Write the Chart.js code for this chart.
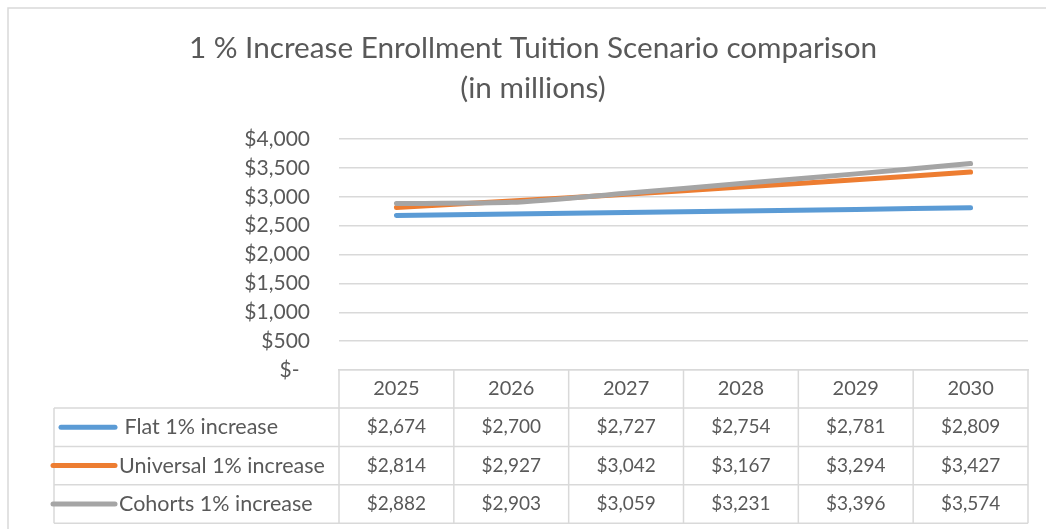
<!DOCTYPE html>
<html>
<head>
<meta charset="utf-8">
<script src="https://cdn.jsdelivr.net/npm/chart.js@4.4.0/dist/chart.umd.min.js"></script>
<style>
  html, body { margin: 0; padding: 0; background: #ffffff; }
  #wrap { position: relative; width: 1046px; height: 529px; }
  canvas { display: block; }
</style>
</head>
<body>
<div id="wrap"><canvas id="c" width="1046" height="529"></canvas></div>
<script>
// ---- Data ----
const titleLines = ['1 % Increase Enrollment Tuition Scenario comparison', '(in millions)'];
const years = ['2025', '2026', '2027', '2028', '2029', '2030'];
const seriesNames = [' Flat 1% increase', 'Universal 1% increase', 'Cohorts 1% increase'];
const flat = [2674, 2700, 2727, 2754, 2781, 2809];
const universal = [2814, 2927, 3042, 3167, 3294, 3427];
const cohorts = [2882, 2903, 3059, 3231, 3396, 3574];
const seriesColors = ['#5B9BD5', '#ED7D31', '#A5A5A5'];
const yMin = 0, yMax = 4000, yStep = 500;

// ---- Styles ----
const FONT = 'Lato, "Open Sans", sans-serif';
const TEXT = '#595959';
const GRID = '#d9d9d9';
const PAD_LEFT = 38;

function money(v) {
  if (v === 0) return '$-\u2002';
  return '$' + v.toLocaleString('en-US');
}

const seriesData = [flat, universal, cohorts];

const borderPlugin = {
  id: 'outerBorder',
  beforeDraw(chart) {
    const ctx = chart.ctx;
    ctx.save();
    ctx.fillStyle = '#ffffff';
    ctx.fillRect(0, 0, chart.width, chart.height);
    ctx.strokeStyle = GRID;
    ctx.lineWidth = 1.5;
    ctx.beginPath();
    ctx.moveTo(8, chart.height + 5);
    ctx.lineTo(8, 8);
    ctx.lineTo(chart.width + 5, 8);
    ctx.stroke();
    ctx.restore();
  }
};

const tablePlugin = {
  id: 'dataTable',
  afterDraw(chart) {
    const { ctx, chartArea } = chart;
    const x = chart.scales.x;
    const cols = years.length;
    const colW = (chartArea.right - chartArea.left) / cols;
    const top = x.bottom;
    const rowH = 38.4;
    const legendLeft = 54;
    const bottom = top + seriesData.length * rowH;
    ctx.save();
    ctx.strokeStyle = GRID;
    ctx.lineWidth = 1.5;
    const line = (x1, y1, x2, y2) => { ctx.beginPath(); ctx.moveTo(x1, y1); ctx.lineTo(x2, y2); ctx.stroke(); };
    for (let r = 0; r <= seriesData.length; r++) {
      const y = top + r * rowH;
      line(legendLeft, y, chartArea.right, y);
    }
    for (let c = 0; c <= cols; c++) {
      const xx = chartArea.left + c * colW;
      line(xx, chartArea.bottom, xx, bottom);
    }
    line(legendLeft, top, legendLeft, bottom);

    ctx.fillStyle = TEXT;
    ctx.textBaseline = 'middle';
    seriesData.forEach((vals, r) => {
      const cy = top + r * rowH + rowH / 2;
      // legend key
      ctx.strokeStyle = seriesColors[r];
      ctx.lineWidth = 5;
      ctx.lineCap = 'round';
      line(r === 0 ? 61 : 53, cy, 115, cy);
      ctx.textAlign = 'left';
      ctx.font = '21.5px ' + FONT;
      ctx.fillText(seriesNames[r], 119, cy);
      ctx.textAlign = 'center';
      ctx.font = '19px ' + FONT;
      vals.forEach((v, i) => {
        ctx.fillText(money(v), x.getPixelForValue(i), cy);
      });
    });
    ctx.restore();
  }
};

new Chart(document.getElementById('c'), {
  type: 'line',
  data: {
    labels: years,
    datasets: seriesNames.map((name, i) => ({
      label: name,
      data: seriesData[i],
      borderColor: seriesColors[i],
      backgroundColor: seriesColors[i],
      borderWidth: 5,
      pointRadius: 0,
      tension: 0.2,
      borderCapStyle: 'round',
      borderJoinStyle: 'round',
      order: 3 - i
    }))
  },
  options: {
    responsive: false,
    animation: false,
    devicePixelRatio: 1,
    layout: { padding: { left: PAD_LEFT, right: 18, top: 8, bottom: 121 } },
    plugins: {
      legend: { display: false },
      tooltip: { enabled: false },
      title: {
        display: true,
        text: titleLines,
        color: TEXT,
        font: { family: FONT, size: 29.7, weight: 'normal', lineHeight: 40 / 29.7 },
        padding: { top: 20, bottom: 31 }
      }
    },
    scales: {
      x: {
        type: 'category',
        offset: true,
        grid: { display: false, drawTicks: false },
        border: { display: true, color: GRID, width: 1.5 },
        ticks: { color: TEXT, font: { family: FONT, size: 20 }, padding: 7, maxRotation: 0, autoSkip: false },
        afterFit: s => { s.height = 38; }
      },
      y: {
        min: yMin,
        max: yMax,
        grid: { color: GRID, lineWidth: 1.5, drawTicks: false },
        border: { display: false },
        ticks: { stepSize: yStep, color: TEXT, font: { family: FONT, size: 21 }, padding: 29, callback: v => money(v) },
        afterFit: s => { s.width = 339 - PAD_LEFT; }
      }
    }
  },
  plugins: [borderPlugin, tablePlugin]
});
</script>
</body>
</html>
